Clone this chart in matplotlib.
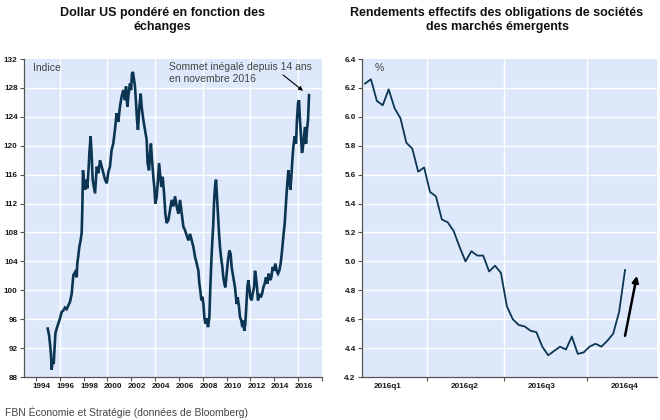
import matplotlib
matplotlib.use("Agg")
import matplotlib.pyplot as plt
from matplotlib.ticker import FixedLocator, NullFormatter

# ---------------- data ----------------
usd_years = [1994.99, 1995.10, 1995.18, 1995.27, 1995.32, 1995.40, 1995.49, 1995.54, 1995.63, 1995.74,
             1995.88, 1996.02, 1996.16, 1996.30, 1996.44, 1996.58, 1996.72, 1996.86, 1997.00, 1997.14,
             1997.28, 1997.42, 1997.47, 1997.56, 1997.64, 1997.75, 1997.84, 1997.89, 1997.95, 1998.03,
             1998.12, 1998.20, 1998.31, 1998.43, 1998.48, 1998.59, 1998.68, 1998.76, 1998.87, 1998.96,
             1999.10, 1999.24, 1999.38, 1999.52, 1999.66, 1999.80, 1999.94, 2000.08, 2000.21, 2000.35,
             2000.49, 2000.63, 2000.77, 2000.91, 2001.05, 2001.19, 2001.33, 2001.47, 2001.56, 2001.67,
             2001.78, 2001.89, 2001.98, 2002.06, 2002.14, 2002.23, 2002.31, 2002.40, 2002.48, 2002.56,
             2002.68, 2002.79, 2002.87, 2003.01, 2003.15, 2003.29, 2003.37, 2003.49, 2003.57, 2003.65,
             2003.74, 2003.85, 2003.93, 2004.02, 2004.13, 2004.24, 2004.33, 2004.41, 2004.52, 2004.63,
             2004.75, 2004.86, 2004.97, 2005.11, 2005.25, 2005.39, 2005.53, 2005.67, 2005.81, 2005.95,
             2006.09, 2006.23, 2006.37, 2006.51, 2006.65, 2006.79, 2006.93, 2007.07, 2007.21, 2007.35,
             2007.49, 2007.63, 2007.71, 2007.79, 2007.88, 2007.96, 2008.05, 2008.13, 2008.21, 2008.32,
             2008.44, 2008.55, 2008.63, 2008.72, 2008.80, 2008.88, 2008.94, 2009.02, 2009.11, 2009.19,
             2009.28, 2009.36, 2009.44, 2009.53, 2009.64, 2009.72, 2009.81, 2009.89, 2010.00, 2010.11,
             2010.23, 2010.34, 2010.42, 2010.56, 2010.70, 2010.84, 2010.93, 2011.04, 2011.12, 2011.23,
             2011.32, 2011.40, 2011.48, 2011.57, 2011.65, 2011.74, 2011.82, 2011.90, 2011.99, 2012.10,
             2012.18, 2012.30, 2012.38, 2012.46, 2012.55, 2012.63, 2012.74, 2012.86, 2012.97, 2013.08,
             2013.19, 2013.30, 2013.41, 2013.53, 2013.64, 2013.75, 2013.86, 2013.97, 2014.09, 2014.20,
             2014.31, 2014.42, 2014.53, 2014.62, 2014.70, 2014.78, 2014.87, 2014.92, 2015.01, 2015.09,
             2015.18, 2015.26, 2015.34, 2015.43, 2015.51, 2015.60, 2015.71, 2015.82, 2015.90, 2015.99,
             2016.07, 2016.15, 2016.24, 2016.32, 2016.41, 2016.49, 2016.57, 2016.66, 2016.74, 2016.83,
             2016.91]
usd_values = [94.7, 93.8, 92.6, 91.0, 89.0, 90.3, 89.8, 91.4, 94.0, 94.7,
              95.4, 96.1, 97.0, 97.2, 97.6, 97.4, 97.9, 98.4, 99.5, 102.1,
              102.5, 101.8, 103.7, 104.8, 106.0, 106.9, 108.0, 111.1, 116.6, 114.8,
              113.9, 115.3, 114.1, 117.1, 118.9, 121.3, 118.5, 115.3, 114.3, 113.4,
              117.1, 116.2, 118.0, 117.1, 116.2, 115.3, 114.8, 116.4, 117.1, 119.4,
              120.3, 122.2, 124.5, 123.3, 125.4, 126.8, 127.7, 126.3, 128.2, 125.4,
              127.2, 128.6, 127.7, 130.0, 130.2, 129.1, 128.2, 125.9, 123.6, 122.2,
              125.4, 127.2, 125.4, 123.6, 122.2, 120.8, 117.6, 116.6, 118.9, 120.3,
              118.0, 115.7, 114.3, 112.0, 112.9, 115.3, 117.6, 116.2, 114.3, 115.7,
              113.4, 110.6, 109.3, 109.7, 111.1, 112.5, 111.6, 113.0, 111.6, 110.6,
              112.5, 110.6, 108.8, 108.3, 107.6, 106.9, 107.8, 106.9, 106.0, 104.6,
              103.7, 102.7, 100.9, 100.0, 98.6, 99.1, 98.1, 96.3, 95.4, 96.1,
              94.9, 96.3, 100.4, 104.1, 106.9, 109.2, 112.0, 114.3, 115.3, 112.9,
              110.2, 107.9, 106.0, 104.6, 103.2, 101.8, 100.9, 100.4, 102.3, 104.1,
              105.5, 105.0, 103.2, 101.8, 100.4, 98.1, 99.0, 97.7, 96.3, 95.8,
              94.9, 95.8, 94.4, 95.4, 97.7, 100.4, 101.4, 100.4, 99.0, 98.6,
              99.5, 100.4, 102.7, 101.8, 100.4, 98.6, 99.5, 99.0, 99.5, 100.4,
              100.9, 101.8, 100.9, 102.3, 101.4, 101.8, 103.2, 102.7, 103.7, 102.7,
              102.3, 102.7, 103.7, 105.0, 106.4, 107.8, 109.2, 110.6, 112.9, 114.8,
              116.6, 115.3, 113.9, 115.7, 118.0, 119.9, 121.3, 120.3, 123.6, 125.9,
              126.3, 123.6, 121.3, 119.0, 119.9, 121.3, 122.6, 120.3, 122.2, 123.6,
              127.0]

em_weeks = list(range(45))
em_yield = [6.23, 6.26, 6.11, 6.08, 6.19, 6.06, 5.99, 5.82, 5.78, 5.62,
            5.65, 5.48, 5.45, 5.29, 5.27, 5.21, 5.10, 5.00, 5.07, 5.04,
            5.04, 4.93, 4.97, 4.92, 4.69, 4.60, 4.56, 4.55, 4.52, 4.51,
            4.41, 4.35, 4.38, 4.41, 4.39, 4.48, 4.36, 4.37, 4.41, 4.43,
            4.41, 4.45, 4.50, 4.65, 4.94]

usd_yticks = [88, 92, 96, 100, 104, 108, 112, 116, 120, 124, 128, 132]
usd_xlabels = ["1994", "1996", "1998", "2000", "2002", "2004", "2006", "2008",
               "2010", "2012", "2014", "2016"]
em_yticks = [4.2, 4.4, 4.6, 4.8, 5.0, 5.2, 5.4, 5.6, 5.8, 6.0, 6.2, 6.4]
em_xlabels = ["2016q1", "2016q2", "2016q3", "2016q4"]

# ---------------- style ----------------
BG = "#DDE9FB"
LINE = "#0C3553"
TICKFONT = dict(family=["Liberation Sans Narrow", "Liberation Sans", "DejaVu Sans"],
                fontsize=5.9, fontweight="bold", color="#1A1A1A")
TXT = ["Liberation Sans", "DejaVu Sans"]

fig = plt.figure(figsize=(6.6, 4.2), dpi=100)
fig.patch.set_facecolor("white")

W, H = 660.0, 420.0


def rect(x0, y0, x1, y1):
    return [x0 / W, 1 - y1 / H, (x1 - x0) / W, (y1 - y0) / H]


def style_axes(ax):
    ax.set_facecolor(BG)
    for s in ("top", "right"):
        ax.spines[s].set_visible(False)
    for s in ("left", "bottom"):
        ax.spines[s].set_color("#555555")
        ax.spines[s].set_linewidth(0.9)
    ax.tick_params(axis="both", which="both", length=3, width=0.8, color="#555555",
                   direction="out", pad=1.5)


# ---------------- left panel ----------------
ax1 = fig.add_axes(rect(24, 59, 322, 377))
style_axes(ax1)
ax1.set_xlim(1993.0, 2018.0)
ax1.set_ylim(88, 132)
ax1.set_yticks(usd_yticks)
ax1.set_yticklabels([str(v) for v in usd_yticks], **TICKFONT)
for y in usd_yticks[1:-1]:
    ax1.axhline(y, color="white", lw=1.0, zorder=1)
for x in [1996, 2000, 2004, 2008, 2012, 2016]:
    ax1.axvline(x, color="white", lw=1.0, zorder=1)
ax1.xaxis.set_major_locator(FixedLocator([1994 + 2 * i for i in range(13)]))
ax1.xaxis.set_major_formatter(NullFormatter())
ax1.xaxis.set_minor_locator(FixedLocator([1994.5 + 2 * i for i in range(12)]))
ax1.set_xticklabels(usd_xlabels, minor=True, **TICKFONT)
ax1.tick_params(axis="x", which="minor", length=0, pad=4)
ax1.plot(usd_years, usd_values, color=LINE, lw=1.9, zorder=3, solid_joinstyle="miter")

ax1.text(1993.75, 130.7, "Indice", family=TXT, fontsize=7.5, color="#444444",
         ha="left", va="center")
ax1.text(2005.2, 131.55, "Sommet inégalé depuis 14 ans\nen novembre 2016", family=TXT,
         fontsize=7.5, color="#444444", ha="left", va="top", linespacing=1.2)
ax1.annotate("", xy=(2016.41, 127.6), xytext=(2014.73, 129.8),
             arrowprops=dict(arrowstyle="-|>", color="black", lw=0.8,
                             mutation_scale=6, shrinkA=0, shrinkB=0))

# ---------------- right panel ----------------
ax2 = fig.add_axes(rect(362, 59, 657, 377))
style_axes(ax2)
ax2.set_xlim(-0.51, 49.41)
ax2.set_ylim(4.2, 6.4)
ax2.set_yticks(em_yticks)
ax2.set_yticklabels(["%.1f" % v for v in em_yticks], **TICKFONT)
for y in em_yticks[1:-1]:
    ax2.axhline(y, color="white", lw=1.0, zorder=1)
qticks = [10.49, 23.52, 37.56]
for x in qticks:
    ax2.axvline(x, color="white", lw=1.0, zorder=1)
ax2.xaxis.set_major_locator(FixedLocator(qticks))
ax2.xaxis.set_major_formatter(NullFormatter())
ax2.xaxis.set_minor_locator(FixedLocator([3.89, 16.92, 29.95, 43.99]))
ax2.set_xticklabels(em_xlabels, minor=True, **TICKFONT)
ax2.tick_params(axis="x", which="minor", length=0, pad=4)
ax2.plot(em_weeks, em_yield, color=LINE, lw=1.3, zorder=3)

ax2.text(1.6, 6.335, "%", family=TXT, fontsize=7.5, color="#444444", ha="left", va="center")
ax2.annotate("", xy=(46.0, 4.90), xytext=(44.0, 4.485),
             arrowprops=dict(arrowstyle="-|>", color="black", lw=1.8,
                             mutation_scale=9, shrinkA=0, shrinkB=0))

# ---------------- titles & footer ----------------
fig.text(162 / W, 1 - 20 / H, "Dollar US pondéré en fonction des\néchanges",
         family=TXT, fontsize=9, fontweight="bold", color="#111111",
         ha="center", va="center", linespacing=1.3)
fig.text(497 / W, 1 - 20 / H, "Rendements effectifs des obligations de sociétés\ndes marchés émergents",
         family=TXT, fontsize=9, fontweight="bold", color="#111111",
         ha="center", va="center", linespacing=1.3)
fig.text(5 / W, 1 - 412 / H, "FBN Économie et Stratégie (données de Bloomberg)",
         family=TXT, fontsize=7.5, color="#444444", ha="left", va="center")

fig.savefig("out.png", dpi=100, facecolor="white")
